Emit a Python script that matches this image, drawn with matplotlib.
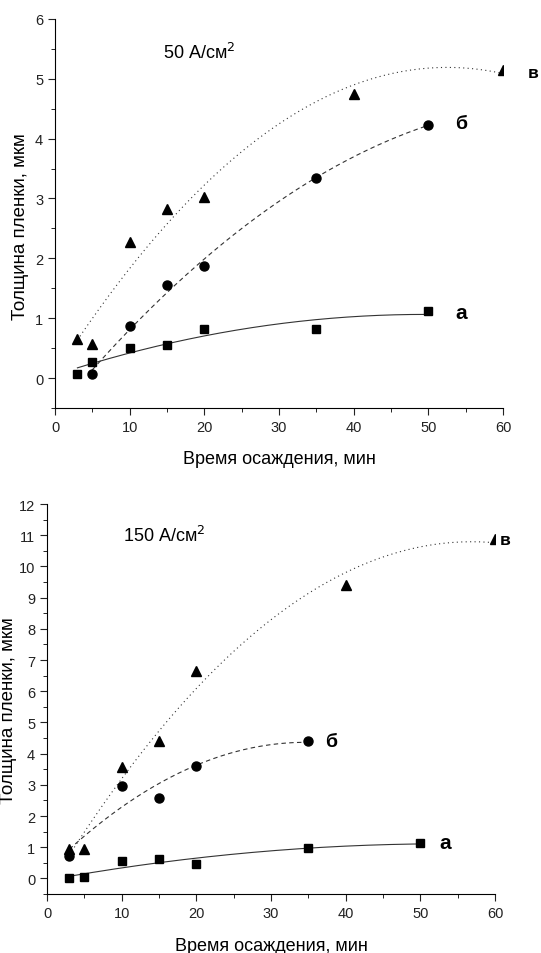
import numpy as np
import matplotlib.pyplot as plt
from matplotlib.ticker import MultipleLocator

plt.rcParams['font.family'] = ['Liberation Sans', 'DejaVu Sans']

# 50 A/cm2
t_a1 = [3, 5, 10, 15, 20, 35, 50]
h_a1 = [0.07, 0.27, 0.5, 0.55, 0.82, 0.82, 1.12]
t_b1 = [5, 10, 15, 20, 35, 50]
h_b1 = [0.07, 0.87, 1.55, 1.87, 3.35, 4.23]
t_v1 = [3, 5, 10, 15, 20, 40, 60]
h_v1 = [0.65, 0.57, 2.28, 2.82, 3.03, 4.75, 5.15]

# 150 A/cm2
t_a2 = [3, 5, 10, 15, 20, 35, 50]
h_a2 = [0.02, 0.05, 0.55, 0.63, 0.45, 0.97, 1.12]
t_b2 = [3, 10, 15, 20, 35]
h_b2 = [0.72, 2.95, 2.57, 3.62, 4.4]
t_v2 = [3, 5, 10, 15, 20, 40, 60]
h_v2 = [0.95, 0.93, 3.57, 4.42, 6.65, 9.42, 10.88]

fig = plt.figure(figsize=(5.41, 9.54), dpi=100)
ax1 = fig.add_axes([0.1017, 0.5713, 0.828, 0.4078])
ax2 = fig.add_axes([0.0869, 0.0618, 0.828, 0.4088])


def fit_line(ax, t, h, ls):
    # quadratic fit, as in the original plot
    c = np.polyfit(t, h, 2)
    xs = np.linspace(min(t), max(t), 200)
    ax.plot(xs, np.polyval(c, xs), color='#333333', lw=0.8, linestyle=ls)


def draw(ax, ta, ha, tb, hb, tv, hv, ymax, title, title_xy, lab_pos):
    fit_line(ax, ta, ha, '-')
    fit_line(ax, tb, hb, (0, (4, 3)))
    fit_line(ax, tv, hv, (0, (1, 3)))
    ax.plot(ta, ha, 's', color='black', ms=6)
    ax.plot(tb, hb, 'o', color='black', ms=6.5)
    ax.plot(tv, hv, '^', color='black', ms=7)

    ax.set_xlim(0, 60)
    ax.set_ylim(-0.5, ymax)
    ax.spines['top'].set_visible(False)
    ax.spines['right'].set_visible(False)
    ax.xaxis.set_major_locator(MultipleLocator(10))
    ax.xaxis.set_minor_locator(MultipleLocator(5))
    ax.yaxis.set_major_locator(MultipleLocator(1))
    ax.yaxis.set_minor_locator(MultipleLocator(0.5))
    ax.tick_params(which='major', length=5, labelsize=10.5, colors='#222222')
    ax.tick_params(which='minor', length=3)
    ax.set_xlabel('Время осаждения, мин', fontsize=13, labelpad=12)
    ax.set_ylabel('Толщина пленки, мкм', fontsize=13.5)
    ax.text(title_xy[0], title_xy[1], title, fontsize=13, ha='left', va='center')
    sizes = [15, 14, 12.5]
    for lab, (x, y), fs in zip(['а', 'б', 'в'], lab_pos, sizes):
        ax.text(x, y, lab, fontsize=fs, fontweight='bold', ha='left', va='center',
                clip_on=False)


draw(ax1, t_a1, h_a1, t_b1, h_b1, t_v1, h_v1, 6, '50 А/см$^2$', (14.5, 5.45),
     [(53.6, 1.1), (53.6, 4.25), (63.3, 5.1)])
draw(ax2, t_a2, h_a2, t_b2, h_b2, t_v2, h_v2, 12, '150 А/см$^2$', (10.2, 11.0),
     [(52.5, 1.15), (37.3, 4.4), (60.7, 10.85)])
ax1.yaxis.set_label_coords(-0.058, 0.47)
ax2.yaxis.set_label_coords(-0.066, 0.474)

fig.savefig('out.png', dpi=100)
